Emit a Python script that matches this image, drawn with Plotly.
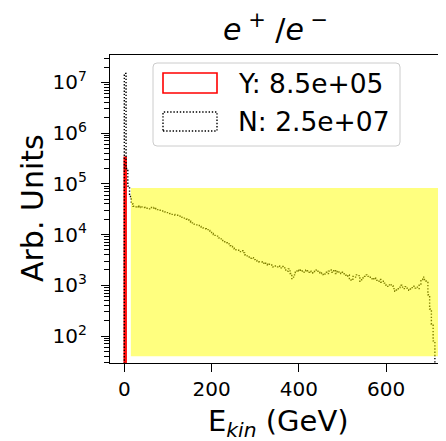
import numpy as np
import plotly.graph_objects as go

# ---------------- data ----------------
BIN_EDGES_GEV = np.arange(0, 724, 4)          # 180 bins, 0..720 GeV
N_COUNTS = [
    1.5e7, 2.0e5, 9.0e4, 5.6e4, 4.0e4, 3.6e4, 3.5e4, 3.6e4, 3.4e4, 3.6e4,
    3.5e4, 3.4e4, 3.3e4, 3.3e4, 3.2e4, 3.4e4, 3.3e4, 3.4e4, 3.2e4, 3.1e4,
    3.0e4, 3.0e4, 2.9e4, 2.8e4, 2.7e4, 2.7e4, 2.6e4, 2.5e4, 2.5e4, 2.4e4,
    2.4e4, 2.3e4, 2.2e4, 2.1e4, 2.1e4, 2.0e4, 1.95e4, 1.85e4, 1.75e4, 1.7e4,
    1.6e4, 1.55e4, 1.55e4, 1.45e4, 1.4e4, 1.35e4, 1.3e4, 1.25e4, 1.2e4, 1.1e4,
    1.05e4, 1.0e4, 9.6e3, 9.3e3, 8.6e3, 8.2e3, 7.6e3, 7.2e3, 6.9e3, 6.6e3,
    6.0e3, 5.8e3, 5.4e3, 5.2e3, 5.0e3, 4.9e3, 4.6e3, 4.8e3, 4.4e3, 4.0e3,
    3.8e3, 3.6e3, 3.4e3, 3.5e3, 3.2e3, 3.1e3, 3.0e3, 2.9e3, 2.9e3, 2.7e3,
    2.8e3, 2.6e3, 2.5e3, 2.6e3, 2.5e3, 2.3e3, 2.4e3, 2.3e3, 2.4e3, 2.2e3,
    2.35e3, 2.2e3, 2.0e3, 1.9e3, 2.1e3, 1.7e3, 1.35e3, 1.6e3, 1.8e3, 2.0e3,
    1.9e3, 2.0e3, 1.8e3, 1.9e3, 2.0e3, 1.8e3, 1.9e3, 1.85e3, 1.75e3, 1.9e3,
    2.0e3, 1.8e3, 1.7e3, 1.75e3, 1.6e3, 1.8e3, 1.7e3, 1.9e3, 2.0e3, 1.8e3,
    2.0e3, 1.7e3, 1.9e3, 1.75e3, 1.7e3, 1.8e3, 1.6e3, 1.5e3, 1.6e3, 1.35e3,
    1.25e3, 1.5e3, 1.45e3, 1.6e3, 1.55e3, 1.2e3, 1.4e3, 1.5e3, 1.6e3, 1.5e3,
    1.45e3, 1.35e3, 1.3e3, 1.4e3, 1.25e3, 1.2e3, 1.3e3, 1.15e3, 1.2e3, 1.1e3,
    1.0e3, 9.5e2, 1.05e3, 9.8e2, 8.6e2, 7.6e2, 8.2e2, 9.0e2, 1.0e3, 9.2e2,
    8.6e2, 9.4e2, 8.8e2, 8.0e2, 8.7e2, 9.6e2, 8.8e2, 9.2e2, 8.6e2, 1.0e3,
    1.3e3, 1.45e3, 1.3e3, 1.2e3, 6.5e2, 3.4e2, 1.7e2, 8.0e1, 0, 0,
]
Y_COUNTS = [3.3e5]                             # remaining bins empty
BAND_E = [15, 732]                             # highlighted region (GeV)
BAND_COUNTS = [40, 8.3e4]
X_TICKS = [0, 200, 400, 600]
Y_TICK_EXP = [2, 3, 4, 5, 6, 7]
LEGEND_LABELS = ["Y: 8.5e+05", "N: 2.5e+07"]

FONT = "DejaVu Sans"
FLOOR = 1.0  # below visible range, for drawing empty bins down to the axis


def step_xy(counts, edges):
    nb = len(edges) - 1
    c = list(counts) + [0] * (nb - len(counts))
    c = [v if v > 0 else FLOOR for v in c]
    xs = [edges[0]] + list(edges)
    ys = [FLOOR] + c + [FLOOR]
    return xs, ys


fig = go.Figure()

yx, yy = step_xy(Y_COUNTS, BIN_EDGES_GEV)
fig.add_trace(go.Scatter(x=yx, y=yy, mode="lines", line_shape="hv",
                         line=dict(color="red", width=1.7), showlegend=False,
                         hoverinfo="skip"))
nx, ny = step_xy(N_COUNTS, BIN_EDGES_GEV)
fig.add_trace(go.Scatter(x=nx, y=ny, mode="lines", line_shape="hv",
                         line=dict(color="black", width=1.4, dash="1.4px,1.8px"),
                         showlegend=False, hoverinfo="skip"))
# yellow band (drawn above, semi-transparent)
fig.add_trace(go.Scatter(
    x=[BAND_E[0], BAND_E[1], BAND_E[1], BAND_E[0], BAND_E[0]],
    y=[BAND_COUNTS[0], BAND_COUNTS[0], BAND_COUNTS[1], BAND_COUNTS[1], BAND_COUNTS[0]],
    mode="lines", fill="toself", fillcolor="rgba(255,255,0,0.5)",
    line=dict(width=0), showlegend=False, hoverinfo="skip"))

# ---------------- layout geometry ----------------
# window pixel coordinates; the page body adds an 8px offset
OFF = 8
WIN_W, WIN_H = 446, 441
W, H = WIN_W - OFF, WIN_H - OFF      # figure size (no scrollbars)
PL, PR, PT, PB = 110, 446, 55, 363   # plot area in window pixels


def px(x):
    return (x - PL) / (PR - PL)


def py(y):
    return (PB - y) / (PB - PT)


def rrect(x0, y0, x1, y1, r):
    X, Y = px, py
    return (f"M {X(x0+r)},{Y(y0)} L {X(x1-r)},{Y(y0)} Q {X(x1)},{Y(y0)} {X(x1)},{Y(y0+r)} "
            f"L {X(x1)},{Y(y1-r)} Q {X(x1)},{Y(y1)} {X(x1-r)},{Y(y1)} "
            f"L {X(x0+r)},{Y(y1)} Q {X(x0)},{Y(y1)} {X(x0)},{Y(y1-r)} "
            f"L {X(x0)},{Y(y0+r)} Q {X(x0)},{Y(y0)} {X(x0+r)},{Y(y0)} Z")


shapes = [
    dict(type="path", xref="paper", yref="paper", path=rrect(153, 63, 400, 146, 4),
         fillcolor="rgba(255,255,255,0.8)", line=dict(color="rgb(204,204,204)", width=1),
         layer="above"),
    dict(type="rect", xref="paper", yref="paper", x0=px(163), x1=px(217), y0=py(93), y1=py(73),
         fillcolor="white", line=dict(color="red", width=1.6), layer="above"),
    dict(type="rect", xref="paper", yref="paper", x0=px(163), x1=px(217), y0=py(131), y1=py(112),
         fillcolor="white", line=dict(color="black", width=1.4, dash="1.4px,1.8px"), layer="above"),
]

annotations = [
    dict(text=LEGEND_LABELS[0], xref="paper", yref="paper", x=px(236), y=py(83),
         xanchor="left", yanchor="middle", showarrow=False,
         font=dict(family=FONT, size=26.5, color="black")),
    dict(text=LEGEND_LABELS[1], xref="paper", yref="paper", x=px(236), y=py(121),
         xanchor="left", yanchor="middle", showarrow=False,
         font=dict(family=FONT, size=26.5, color="black")),
    dict(text="<i>e</i><sup> +</sup> /<i>e</i><sup> \u2212</sup>", xref="paper", yref="paper",
         x=px(275), y=py(27), xanchor="center", yanchor="middle", showarrow=False,
         font=dict(family=FONT, size=30, color="black")),
    dict(text="E<sub><i>kin</i></sub> (GeV)", xref="paper", yref="paper",
         x=px(278), y=py(423), xanchor="center", yanchor="middle", showarrow=False,
         font=dict(family=FONT, size=29, color="black")),
    dict(text="Arb. Units", xref="paper", yref="paper", textangle=-90,
         x=px(32), y=py(208), xanchor="center", yanchor="middle", showarrow=False,
         font=dict(family=FONT, size=30, color="black")),
]

minor_vals = [m * 10 ** k for k in range(1, 8) for m in range(2, 10)]

fig.update_layout(
    width=W, height=H,
    margin=dict(l=PL - OFF, r=W - (PR - OFF), t=PT - OFF, b=H - (PB - OFF), pad=0),
    paper_bgcolor="white", plot_bgcolor="white",
    showlegend=False,
    shapes=shapes, annotations=annotations,
    xaxis=dict(range=[-32.8, 737.5], showline=True, linecolor="black", linewidth=1.3,
               mirror=True, ticks="outside", ticklen=8, tickwidth=1.3, tickcolor="black",
               tickmode="array", tickvals=X_TICKS, showgrid=False, zeroline=False,
               tickfont=dict(family=FONT, size=20, color="black")),
    yaxis=dict(type="log", range=[1.468, 7.538], showline=True, linecolor="black",
               linewidth=1.3, mirror=False, ticks="outside", ticklen=8, tickwidth=1.3,
               tickcolor="black", tickmode="array",
               tickvals=[10 ** e for e in Y_TICK_EXP],
               ticktext=[f"10<sup>{e}</sup>" for e in Y_TICK_EXP],
               ticklabelstandoff=10,
               minor=dict(ticks="outside", ticklen=4.5, tickwidth=1, tickcolor="black",
                          tickmode="array", tickvals=minor_vals, showgrid=False),
               showgrid=False, zeroline=False,
               tickfont=dict(family=FONT, size=20, color="black")),
)

fig.write_html("out.html")
